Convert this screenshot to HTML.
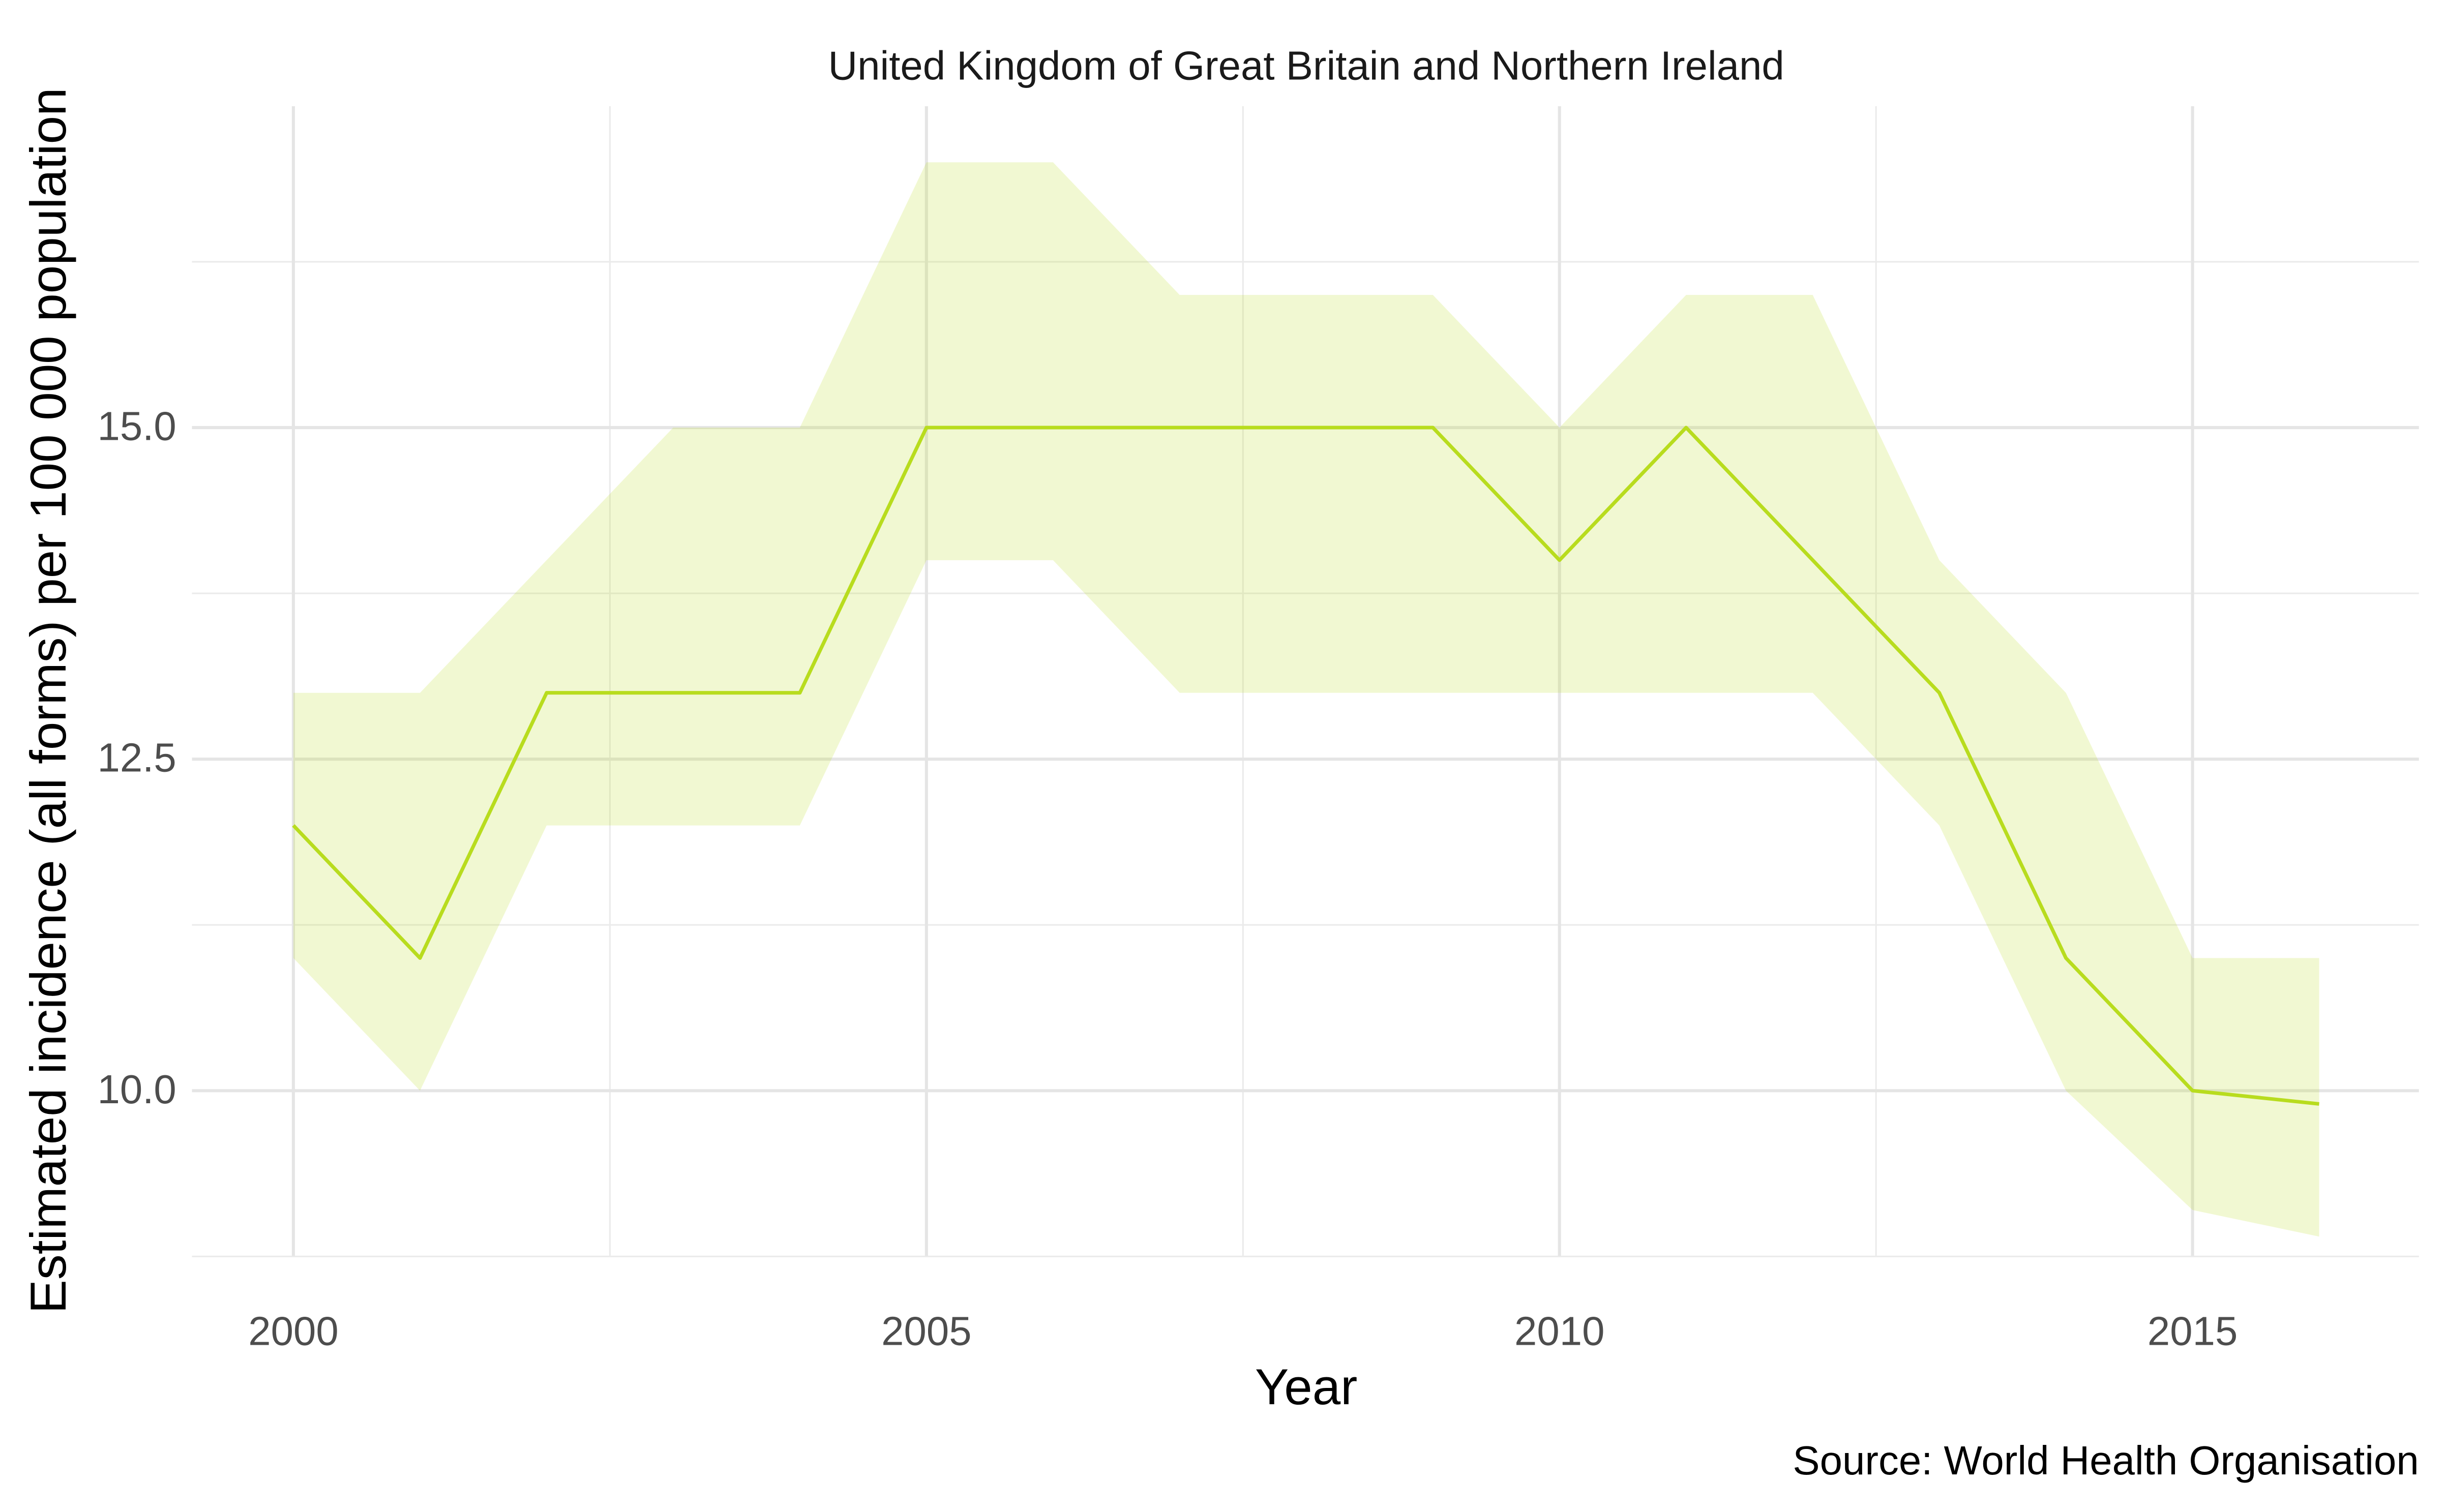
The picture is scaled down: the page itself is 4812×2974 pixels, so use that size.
<!DOCTYPE html>
<html><head><meta charset="utf-8">
<style>
html,body{margin:0;padding:0;background:#fff;}
svg{display:block;}
text{font-family:"Liberation Sans",Arial,sans-serif;}
</style></head>
<body>
<svg id="chart" width="4812" height="2974" viewBox="0 0 1568 969" xmlns="http://www.w3.org/2000/svg">
<g id="grid"></g>
<g id="marks"></g>
<g id="labels"></g>
<text x="837" y="51" font-size="26" text-anchor="middle" fill="#1a1a1a">United Kingdom of Great Britain and Northern Ireland</text>
<text x="837" y="900" font-size="32.5" text-anchor="middle" fill="#000">Year</text>
<text transform="translate(42,449) rotate(-90)" font-size="32.5" text-anchor="middle" fill="#000">Estimated incidence (all forms) per 100 000 population</text>
<text x="1550" y="945" font-size="26" text-anchor="end" fill="#000">Source: World Health Organisation</text>
</svg>
<script>
const years = [2000,2001,2002,2003,2004,2005,2006,2007,2008,2009,2010,2011,2012,2013,2014,2015,2016];
const estimate = [12,11,13,13,13,15,15,15,15,15,14,15,14,13,11,10,9.9];
const upper = [13,13,14,15,15,17,17,16,16,16,15,16,16,14,13,11,11];
const lower = [11,10,12,12,12,14,14,13,13,13,13,13,13,12,10,9.1,8.9];
const xTicks = [2000,2005,2010,2015];
const xMinor = [2002.5,2007.5,2012.5];
const yTicks = [10,12.5,15];
const yTickLabels = ["10.0","12.5","15.0"];
const yMinor = [8.75,11.25,13.75,16.25];

const px0=123, px1=1550, py0=68, py1=805;
function x(v){ return 188 + (v-2000)*81.13; }
function y(v){ return 699 - (v-10)*85; }
const NS="http://www.w3.org/2000/svg";
function mk(tag, attrs, parent){ const e=document.createElementNS(NS,tag); for(const k in attrs) e.setAttribute(k,attrs[k]); parent.appendChild(e); return e; }
const grid=document.getElementById('grid'), marks=document.getElementById('marks'), labels=document.getElementById('labels');

yMinor.forEach(v=>{ const l=mk('line',{x1:px0,x2:px1,y1:y(v),y2:y(v),stroke:'#ebebeb','stroke-width':1},grid);

 });
xMinor.forEach(v=>{ const l=mk('line',{x1:x(v),x2:x(v),y1:py0,y2:py1,stroke:'#ebebeb','stroke-width':1},grid);

 });
yTicks.forEach((v,i)=>{ const l=mk('line',{x1:px0,x2:px1,y1:y(v),y2:y(v),stroke:'#e5e5e5','stroke-width':2},grid);


const t=mk('text',{x:113,y:y(v)+8,'font-size':26,'text-anchor':'end',fill:'#4d4d4d'},labels);
t.textContent=yTickLabels[i];

 });
xTicks.forEach(v=>{ const l=mk('line',{x1:x(v),x2:x(v),y1:py0,y2:py1,stroke:'#e5e5e5','stroke-width':2},grid);


const t=mk('text',{x:x(v),y:862,'font-size':26,'text-anchor':'middle',fill:'#4d4d4d'},labels);
t.textContent=String(v);

 });

let d='';
years.forEach((yr,i)=>{ d+=(i?'L':'M')+x(yr)+','+y(upper[i]); });
for(let i=years.length-1;i>=0;i--) d+='L'+x(years[i])+','+y(lower[i]);
d+='Z';
const band=mk('path',{d:d,fill:'#b8dc1e','fill-opacity':0.2,stroke:'none'},marks);



const pts=years.map((yr,i)=>x(yr)+','+y(estimate[i])).join(' ');
const line=mk('polyline',{points:pts,fill:'none',stroke:'#b8dc1e','stroke-width':2.3,'stroke-linejoin':'round'},marks);


</script>
</body></html>
